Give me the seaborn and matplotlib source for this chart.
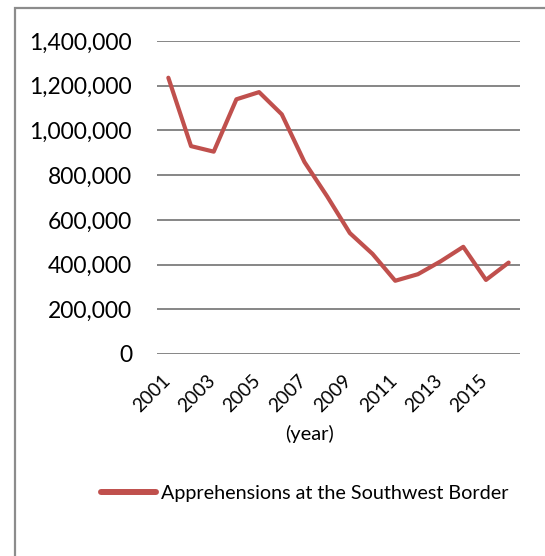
import matplotlib
matplotlib.use("Agg")
import matplotlib.pyplot as plt
import matplotlib.transforms as mtransforms
from matplotlib.patches import Rectangle
from matplotlib.lines import Line2D
from matplotlib.ticker import FuncFormatter
import seaborn as sns
import pandas as pd

years = [2001, 2002, 2003, 2004, 2005, 2006, 2007, 2008,
         2009, 2010, 2011, 2012, 2013, 2014, 2015, 2016]
apprehensions = [1235718, 929809, 905065, 1139282, 1171396, 1071972, 858638, 705005,
                 540865, 447731, 327577, 356873, 414397, 479371, 331333, 408870]
series_name = "Apprehensions at the Southwest Border"
x_label = "(year)"
y_ticks = [0, 200000, 400000, 600000, 800000, 1000000, 1200000, 1400000]
x_ticks = years[::2]

df = pd.DataFrame({"year": years, "value": apprehensions, "series": series_name})

sns.set_theme(style="white")
plt.rcParams["font.family"] = ["Lato", "DejaVu Sans"]

W, H = 545, 556
fig = plt.figure(figsize=(W / 100, H / 100), dpi=100)
ax = fig.add_axes([157 / W, 1 - 354 / H, (520 - 157) / W, (354 - 41) / H])

red = "#C0504D"
grid_c = "#868686"
txt = "#000000"

sns.lineplot(data=df, x="year", y="value", hue="series", palette=[red],
             linewidth=3.0, ax=ax, legend=False, clip_on=False,
             solid_joinstyle="round", solid_capstyle="round")

ax.set_xlim(years[0] - 0.5, years[-1] + 0.5)
ax.set_ylim(0, 1400000)
ax.set_yticks(y_ticks)
ax.yaxis.set_major_formatter(FuncFormatter(lambda v, p: f"{int(v):,}"))
ax.set_xticks(x_ticks)
ax.set_xticklabels([str(y) for y in x_ticks])

for s in ax.spines.values():
    s.set_visible(False)
ax.grid(axis="y", color=grid_c, linewidth=1.4)
ax.grid(axis="x", visible=False)
ax.set_axisbelow(True)

ax.tick_params(axis="y", length=0, pad=18, labelsize=16.5, labelcolor=txt)
ax.tick_params(axis="x", length=0, pad=13, labelsize=13.8, labelcolor=txt)
offset = mtransforms.ScaledTranslation(5 / 100, 0, fig.dpi_scale_trans)
for lbl in ax.get_xticklabels():
    lbl.set_rotation(45)
    lbl.set_ha("right")
    lbl.set_transform(lbl.get_transform() + offset)

ax.set_xlabel(x_label, fontsize=14.5, color=txt)
ax.xaxis.set_label_coords((309 - 157) / 363, (354 - 425) / 313)
ax.set_ylabel("")

handle = Line2D([], [], color=red, linewidth=4.3, solid_capstyle="round")
fig.legend([handle], [series_name], loc="center left",
           bbox_to_anchor=(101 / W, 1 - 493 / H), frameon=False,
           fontsize=14.2, handlelength=2.8, handletextpad=0.25,
           borderpad=0, borderaxespad=0, labelcolor=txt)

fig.patches.append(Rectangle((14.6 / W, -0.5), 2.0, 1 - 7.6 / H + 0.5,
                             transform=fig.transFigure, fill=False,
                             edgecolor="#8c8c8c", linewidth=1.6))

fig.savefig("out.png", dpi=100)
